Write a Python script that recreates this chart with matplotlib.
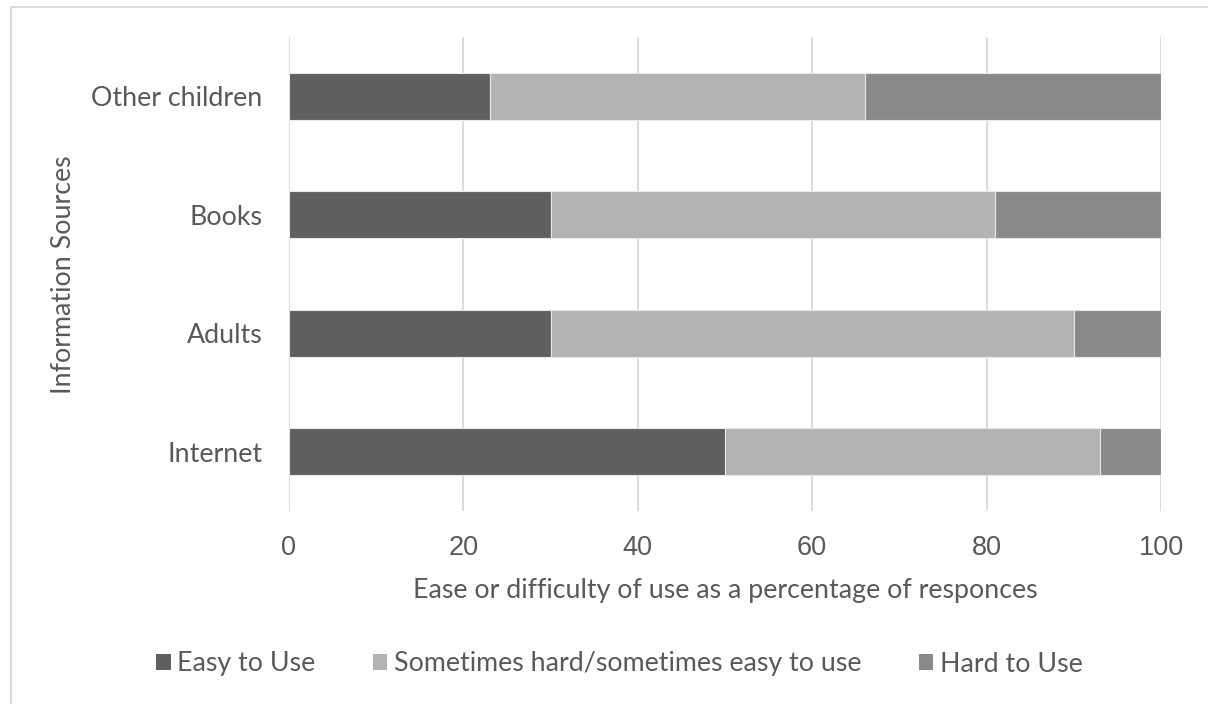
import matplotlib
matplotlib.use("Agg")
import matplotlib.pyplot as plt
from matplotlib.patches import Rectangle

sources = ["Internet", "Adults", "Books", "Other children"]
easy = [50, 30, 30, 23]
sometimes = [43, 60, 51, 43]
hard = [7, 10, 19, 34]
series_names = ["Easy to Use", "Sometimes hard/sometimes easy to use", "Hard to Use"]
x_ticks = [0, 20, 40, 60, 80, 100]

colors = ["#5f5f5f", "#b3b3b3", "#898989"]
text_color = "#595959"
grid_color = "#d9d9d9"
label_font = "Lato"
label_size = 19.3

fig = plt.figure(figsize=(12.08, 7.04), dpi=100)
ax = fig.add_axes([0.2392, 0.2741, 0.7219, 0.6733])

# stacked horizontal bars, one segment per answer
left = [0] * len(sources)
for values, name, color in zip([easy, sometimes, hard], series_names, colors):
    ax.barh(sources, values, left=left, height=0.4, color=color,
            edgecolor="#e8e8e8", linewidth=0.8, label=name, zorder=3)
    left = [a + b for a, b in zip(left, values)]

ax.set_xlim(0, 100)
ax.set_ylim(-0.5, 3.5)
ax.set_xticks(x_ticks)
ax.grid(True, axis="x", color=grid_color, linewidth=1.3, zorder=0)
for spine in ax.spines.values():
    spine.set_visible(False)

ax.tick_params(axis="both", length=0, colors=text_color)
ax.tick_params(axis="y", pad=19)
ax.tick_params(axis="x", pad=17)
for lbl in ax.get_xticklabels():
    lbl.set_fontfamily("Liberation Sans")
    lbl.set_fontsize(19.5)
for lbl in ax.get_yticklabels():
    lbl.set_fontfamily(label_font)
    lbl.set_fontsize(label_size)

ax.set_xlabel("Ease or difficulty of use as a percentage of responces",
              fontsize=label_size, family=label_font, color=text_color,
              va="center", ha="center")
ax.set_ylabel("Information Sources", fontsize=label_size, family=label_font,
              color=text_color, va="center", ha="center")
ax.xaxis.set_label_coords(0.5, -0.167)
ax.yaxis.set_label_coords(-0.259, 0.498)

handles, labels = ax.get_legend_handles_labels()
leg = fig.legend(handles, labels, loc="center", ncol=3,
                 bbox_to_anchor=(0.513, 1 - 664 / 704), frameon=False,
                 prop={"family": label_font, "size": label_size},
                 handlelength=0.53, handleheight=0.53, handletextpad=0.25,
                 columnspacing=2.15, labelcolor=text_color)
for h in leg.legend_handles:
    h.set_edgecolor("none")

# thin outer frame of the chart area
fig.patches.append(Rectangle((11 / 1208, -0.1), 1.2, 1.1 - 7 / 704,
                             transform=fig.transFigure, fill=False,
                             edgecolor=grid_color, linewidth=1.3))

fig.savefig("out.png", dpi=100, facecolor="white")
